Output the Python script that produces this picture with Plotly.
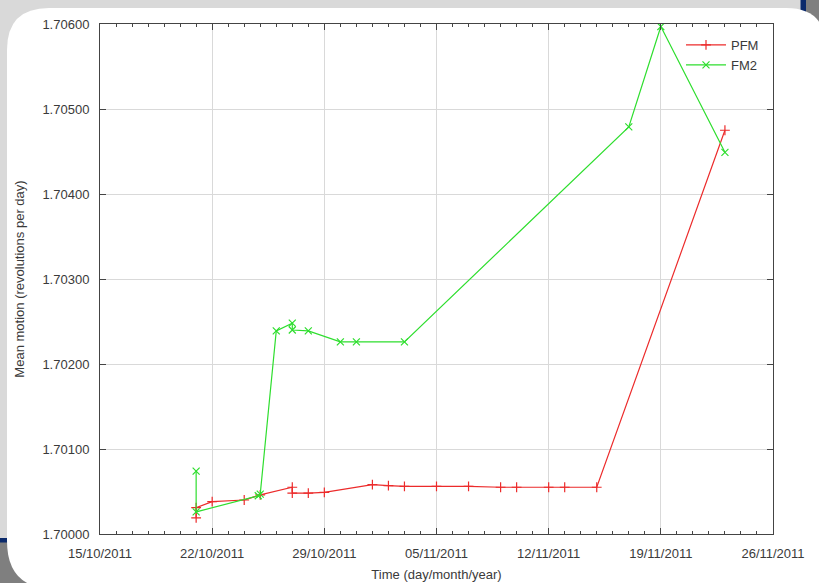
import plotly.graph_objects as go

# ---- data ----
pfm_dates = ["2011-10-21", "2011-10-21", "2011-10-22", "2011-10-24", "2011-10-25",
             "2011-10-27", "2011-10-27", "2011-10-28", "2011-10-29", "2011-11-01",
             "2011-11-02", "2011-11-03", "2011-11-05", "2011-11-07", "2011-11-09",
             "2011-11-10", "2011-11-12", "2011-11-13", "2011-11-15", "2011-11-23"]
pfm_values = [1.70019, 1.70031, 1.70038, 1.70040, 1.70046,
              1.70055, 1.70048, 1.70048, 1.70049, 1.70058,
              1.70057, 1.70056, 1.70056, 1.70056, 1.70055,
              1.70055, 1.70055, 1.70055, 1.70055, 1.70475]

fm2_dates = ["2011-10-21", "2011-10-21", "2011-10-24 21:00", "2011-10-25",
             "2011-10-26", "2011-10-27", "2011-10-27", "2011-10-28",
             "2011-10-30", "2011-10-31", "2011-11-03", "2011-11-17",
             "2011-11-19", "2011-11-23"]
fm2_values = [1.70074, 1.70026, 1.70045, 1.70047,
              1.70239, 1.70248, 1.70240, 1.70239,
              1.70226, 1.70226, 1.70226, 1.70479,
              1.70597, 1.70449]

x_range = ["2011-10-15", "2011-11-26"]
y_range = [1.70000, 1.70600]
series_names = ["PFM", "FM2"]

# ---- figure geometry ----
W, H = 819, 583
L, R, T, B = 100, 773, 24, 534
FONT = "Liberation Sans, Arial, sans-serif"
TXT = "#3a3a3a"
RED = "#ec2b2b"
GREEN = "#2ede2e"


def px(x):
    return (x - L) / (R - L)


def py(y):
    return (B - y) / (B - T)


def rect_path(x0, y0, x1, y1):
    return f"M{px(x0)},{py(y0)} L{px(x1)},{py(y0)} L{px(x1)},{py(y1)} L{px(x0)},{py(y1)} Z"


def round_rect_path(x0, y0, x1, y1, r_tl, r_tr, r_br, r_bl):
    return (f"M{px(x0 + r_tl)},{py(y0)} L{px(x1 - r_tr)},{py(y0)} "
            f"Q{px(x1)},{py(y0)} {px(x1)},{py(y0 + r_tr)} "
            f"L{px(x1)},{py(y1 - r_br)} Q{px(x1)},{py(y1)} {px(x1 - r_br)},{py(y1)} "
            f"L{px(x0 + r_bl)},{py(y1)} Q{px(x0)},{py(y1)} {px(x0)},{py(y1 - r_bl)} "
            f"L{px(x0)},{py(y0 + r_tl)} Q{px(x0)},{py(y0)} {px(x0 + r_tl)},{py(y0)} Z")


fig = go.Figure()
fig.add_trace(go.Scatter(
    x=pfm_dates, y=pfm_values, name=series_names[0], mode="lines+markers",
    line=dict(color=RED, width=1.2),
    marker=dict(symbol="cross-thin", size=7, color=RED, line=dict(color=RED, width=1.2)),
))
fig.add_trace(go.Scatter(
    x=fm2_dates, y=fm2_values, name=series_names[1], mode="lines+markers",
    line=dict(color=GREEN, width=1.2),
    marker=dict(symbol="x-thin", size=7, color=GREEN, line=dict(color=GREEN, width=1.2)),
))

shapes = [
    dict(type="path", path=rect_path(0, 541, 120, 583), fillcolor="#7f7f7f", line=dict(width=0)),
    dict(type="path", path=rect_path(0, 538, 10, 542.5), fillcolor="#0b2a6b", line=dict(width=0)),
    dict(type="path", path=rect_path(806, 0, 819, 45), fillcolor="#7f7f7f", line=dict(width=0)),
    dict(type="path", path=rect_path(800.5, 0, 806, 18), fillcolor="#0b2a6b", line=dict(width=0)),
    dict(type="path", path=f"M{px(819)},{py(572)} L{px(819)},{py(583)} L{px(808)},{py(583)} Z",
         fillcolor="#7f7f7f", line=dict(width=0)),
    dict(type="path", path=round_rect_path(7, 8, 826, 589, 42, 40, 20, 48),
         fillcolor="white", line=dict(width=0)),
]
for s in shapes:
    s.update(xref="paper", yref="paper", layer="below")

fig.update_layout(
    width=W, height=H,
    margin=dict(l=L, r=W - R, t=T, b=H - B, pad=0),
    paper_bgcolor="#d9d9d9",
    plot_bgcolor="white",
    font=dict(family=FONT, size=13, color=TXT),
    shapes=shapes,
    showlegend=True,
    legend=dict(x=px(764), xanchor="right", y=py(30), yanchor="top",
                bgcolor="rgba(0,0,0,0)", borderwidth=0, font=dict(size=13, color=TXT),
                tracegroupgap=0, itemwidth=40),
    xaxis=dict(
        type="date", range=x_range, tick0="2011-10-15", dtick=7 * 86400000,
        tickformat="%d/%m/%Y", ticks="inside", ticklen=6, tickcolor="#444",
        showline=True, linecolor="#444", linewidth=1, mirror="allticks",
        showgrid=True, gridcolor="#d9d9d9", gridwidth=1, zeroline=False,
        minor=dict(dtick=86400000, ticks="inside", ticklen=3, tickcolor="#444", showgrid=False),
        ticklabelstandoff=7, automargin=False,
        title=dict(text="Time (day/month/year)", standoff=10, font=dict(size=13, color=TXT)),
    ),
    yaxis=dict(
        range=y_range, dtick=0.001, tick0=1.70000, tickformat=".5f",
        ticks="inside", ticklen=6, tickcolor="#444",
        showline=True, linecolor="#444", linewidth=1, mirror="allticks",
        showgrid=True, gridcolor="#d9d9d9", gridwidth=1, zeroline=False,
        ticklabelstandoff=7, automargin=False,
        title=dict(text="Mean motion (revolutions per day)", standoff=14, font=dict(size=13, color=TXT)),
    ),
)

fig.write_html("out.html", config={"displayModeBar": False},
               post_script="document.body.style.margin='0';")
